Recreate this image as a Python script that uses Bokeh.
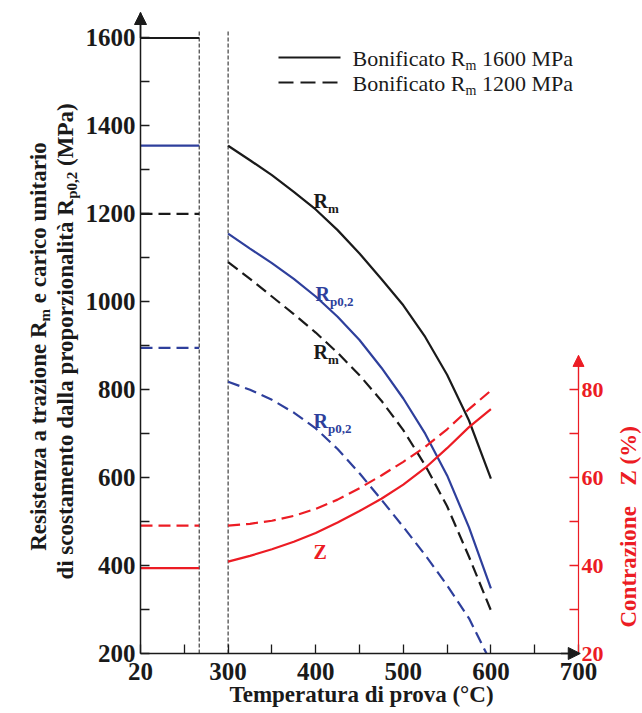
import numpy as np
from bokeh.plotting import figure
from bokeh.models import Range1d, LinearAxis, FixedTicker, Label, Arrow, NormalHead
from bokeh.embed import file_html
from bokeh.resources import INLINE

# ---------------- data ----------------
# x axis is broken: position 200 stands for the room-temperature value (20 °C)
x_tick_pos = [200, 300, 400, 500, 600, 700]
x_tick_labels = ["20", "300", "400", "500", "600", "700"]
x_minor = [250, 350, 450, 550, 650]
y_ticks = [200, 400, 600, 800, 1000, 1200, 1400, 1600]
y_minor = [300, 500, 700, 900, 1100, 1300, 1500]
z_ticks = [20, 40, 60, 80]
z_minor = [30, 50, 70]

# room temperature (20 °C) values
rt_rm_1600 = 1600
rt_rp_1600 = 1355
rt_rm_1200 = 1200
rt_rp_1200 = 895
rt_z_1600 = 39.4
rt_z_1200 = 49.1

temp = [300, 325, 350, 375, 400, 425, 450, 475, 500, 525, 550, 575, 600]
rm_1600 = [1355, 1322, 1288, 1250, 1210, 1163, 1110, 1052, 992, 920, 834, 730, 598]
rp_1600 = [1155, 1121, 1088, 1052, 1012, 966, 913, 850, 780, 700, 605, 487, 348]
rm_1200 = [1090, 1052, 1012, 972, 930, 884, 833, 775, 708, 628, 535, 420, 298]
temp_rp_1200 = [300, 325, 350, 375, 400, 425, 450, 475, 500, 525, 550, 575, 595]
rp_1200 = [818, 800, 777, 748, 712, 665, 610, 550, 488, 424, 355, 280, 200]
z_1600 = [40.9, 42.2, 43.7, 45.4, 47.4, 49.8, 52.4, 55.2, 58.4, 62.2, 66.7, 71.5, 75.6]
z_1200 = [49.1, 49.5, 50.2, 51.3, 52.9, 55.0, 57.6, 60.5, 63.6, 67.0, 71.0, 75.6, 79.8]

legend_labels = ["Bonificato R", "m", " 1600 MPa", " 1200 MPa"]

# ---------------- styling ----------------
FONT = "Liberation Serif"
BLACK = "#1a1a1a"
BLUE = "#2e3f9c"
RED = "#ec1c24"
DASH = "12 6"
BREAK_L, BREAK_R = 267, 300
Y_END = 1658.0
KY = 641 / (Y_END - 200)   # px per MPa
KX = 0.876                 # px per x unit

# pixel -> data helpers (axes corner at px (140, 653))
def X(px):
    return 200 + (px - 140) / KX

def Y(py):
    return 200 + (653 - py) / KY

# Times metrics for composing subscripts
_low = "abcdefghijklmnopqrstuvwxyz"
TR = dict(zip(_low, [444,500,444,500,444,333,500,500,278,278,500,278,778,500,500,500,500,333,389,278,500,500,722,500,500,444]))
TB = dict(zip(_low, [500,556,444,556,444,333,500,556,278,333,556,278,833,556,500,556,556,444,389,333,556,500,722,500,500,444]))
TR.update({"B": 667, "C": 667, "M": 889, "P": 556, "R": 667, "Z": 611, "T": 611})
TB.update({"B": 667, "C": 722, "M": 944, "P": 611, "R": 722, "Z": 667, "T": 667})
for d in (TR, TB):
    d.update({c: 500 for c in "0123456789"})
    d.update({" ": 250, "(": 333, ")": 333, ",": 250, ".": 250, "\u00b0": 400})
TR.update({"%": 833, "\u00e0": 444})
TB.update({"%": 1000, "\u00e0": 500})

def tw(s, size, bold):
    t = TB if bold else TR
    return sum(t.get(c, 500) for c in s) * size / 1000.0

# the frame covers the whole canvas; axes are placed with fixed_location
p = figure(width=642, height=713, x_range=Range1d(X(0), X(642)), y_range=Range1d(Y(713), Y(0)),
           output_backend="svg", toolbar_location=None,
           min_border=0, min_border_left=0, min_border_right=0, min_border_top=0, min_border_bottom=0)
p.title.visible = False
p.extra_y_ranges = {"z": Range1d(Y(713) / 10, Y(0) / 10)}
p.outline_line_color = None
p.xgrid.visible = False
p.ygrid.visible = False
p.background_fill_color = "white"
p.border_fill_color = "white"

def style_axis(ax, color, size, standoff, lw):
    ax.axis_line_color = color
    ax.axis_line_width = lw
    ax.major_tick_line_color = color
    ax.minor_tick_line_color = color
    ax.major_tick_line_width = 1.3
    ax.minor_tick_line_width = 1.3
    ax.major_tick_in = 9
    ax.major_tick_out = 0
    ax.minor_tick_in = 9
    ax.minor_tick_out = 0
    ax.major_label_text_font = FONT
    ax.major_label_text_font_size = size
    ax.major_label_text_font_style = "bold"
    ax.major_label_text_color = color
    ax.major_label_standoff = standoff

xa = p.xaxis[0]
xa.ticker = FixedTicker(ticks=x_tick_pos, minor_ticks=x_minor)
xa.major_label_overrides = {pos: lab for pos, lab in zip(x_tick_pos, x_tick_labels)}
xa.fixed_location = 200
xa.bounds = (200, 700)
style_axis(xa, BLACK, "25px", 9, 1.5)

ya = p.yaxis[0]
ya.ticker = FixedTicker(ticks=y_ticks, minor_ticks=y_minor)
ya.fixed_location = 200
ya.bounds = (200, Y_END)
style_axis(ya, BLACK, "25px", 5, 1.5)

za = LinearAxis(y_range_name="z", ticker=FixedTicker(ticks=z_ticks, minor_ticks=z_minor),
                bounds=(20, 87.8), fixed_location=700)
style_axis(za, RED, "22px", 3, 1.2)
p.add_layout(za, "right")

# break lines
p.segment(x0=[BREAK_L, BREAK_R], y0=[200, 200], x1=[BREAK_L, BREAK_R], y1=[Y(31), Y(31)],
          line_color=BLACK, line_width=1, line_dash="4 2")

# room temperature levels
p.segment(x0=[200, 200], x1=[BREAK_L, BREAK_L], y0=[rt_rm_1600, rt_rp_1600], y1=[rt_rm_1600, rt_rp_1600],
          line_color=[BLACK, BLUE], line_width=2.2)
p.segment(x0=[200, 200], x1=[BREAK_L, BREAK_L], y0=[rt_rm_1200, rt_rp_1200], y1=[rt_rm_1200, rt_rp_1200],
          line_color=[BLACK, BLUE], line_width=2.2, line_dash=DASH)
p.segment(x0=[200], x1=[BREAK_L], y0=[rt_z_1600], y1=[rt_z_1600], line_color=RED, line_width=2.2, y_range_name="z")
p.segment(x0=[200], x1=[BREAK_L], y0=[rt_z_1200], y1=[rt_z_1200], line_color=RED, line_width=2.2,
          line_dash=DASH, y_range_name="z")

# curves
p.line(temp, rm_1600, line_color=BLACK, line_width=2.2)
p.line(temp, rp_1600, line_color=BLUE, line_width=2.2)
p.line(temp, rm_1200, line_color=BLACK, line_width=2.2, line_dash=DASH)
p.line(temp_rp_1200, rp_1200, line_color=BLUE, line_width=2.2, line_dash=DASH)
p.line(temp, z_1600, line_color=RED, line_width=2.2, y_range_name="z")
p.line(temp, z_1200, line_color=RED, line_width=2.2, line_dash=DASH, y_range_name="z")

# arrows on axes
p.add_layout(Arrow(end=NormalHead(size=12, fill_color=BLACK, line_color=BLACK), x_start=200, y_start=1600,
                   x_end=200, y_end=Y_END, line_color=BLACK, line_width=1.5))
p.add_layout(Arrow(end=NormalHead(size=12, fill_color=BLACK, line_color=BLACK), x_start=680, y_start=200,
                   x_end=702, y_end=200, line_color=BLACK, line_width=1.5))
p.add_layout(Arrow(end=NormalHead(size=11, fill_color=RED, line_color=RED), x_start=700, y_start=80,
                   x_end=700, y_end=87.8, y_range_name="z", line_color=RED, line_width=1.2))

def label(px, py, text, size, color, bold=True, angle=0.0, align="left"):
    # (px, py) is the baseline point; anchor the label at the middle of the capitals
    off = 0.34 * size
    if angle == 0.0:
        cx, cy = px, py - off
    else:
        cx, cy = px - off, py
    p.add_layout(Label(x=X(cx), y=Y(cy), text=text, text_font=FONT, text_font_size=f"{size}px",
                       text_font_style="bold" if bold else "normal", text_color=color,
                       angle=angle, text_align=align, text_baseline="middle"))

def hpieces(px, py, pieces, color, bold):
    x = px
    for t, size, dy in pieces:
        if t.startswith(" "):
            x += tw(" ", size, bold)
            t = t[1:]
        label(x, py + dy, t, size, color, bold)
        x += tw(t, size, bold)

def vpieces(bx, cy, pieces, color, bold):
    total = sum(tw(t, s, bold) for t, s, _ in pieces)
    y = cy + total / 2
    for t, size, dx in pieces:
        if t.startswith(" "):
            y -= tw(" ", size, bold)
            t = t[1:]
        label(bx + dx, y, t, size, color, bold, angle=np.pi / 2)
        y -= tw(t, size, bold)

# legend
p.segment(x0=[X(278)], x1=[X(340)], y0=[Y(57)], y1=[Y(57)], line_color=BLACK, line_width=2.2)
p.segment(x0=[X(278)], x1=[X(340)], y0=[Y(82)], y1=[Y(82)], line_color=BLACK, line_width=2.2, line_dash="15 7")
LS, SS = 22, 14
hpieces(352, 65, [(legend_labels[0], LS, 0), (legend_labels[1], SS, 5), (legend_labels[2], LS, 0)], BLACK, False)
hpieces(352, 90, [(legend_labels[0], LS, 0), (legend_labels[1], SS, 5), (legend_labels[3], LS, 0)], BLACK, False)

# curve labels
CS, CSS = 20, 13
hpieces(313, 207, [("R", CS, 0), ("m", CSS, 5)], BLACK, True)
hpieces(315, 300, [("R", CS, 0), ("p0,2", CSS, 5)], BLUE, True)
hpieces(313, 358, [("R", CS, 0), ("m", CSS, 5)], BLACK, True)
hpieces(313, 427, [("R", CS, 0), ("p0,2", CSS, 5)], BLUE, True)
label(313, 558, "Z", CS, RED, True)

# axis titles
TS, TSS = 23, 15
vpieces(46, 346, [("Resistenza a trazione R", TS, 0), ("m", TSS, 4), (" e carico unitario", TS, 0)], BLACK, True)
vpieces(73, 341, [("di scostamento dalla proporzionalit\u00e0 R", TS, 0), ("p0,2", TSS, 4), (" (MPa)", TS, 0)], BLACK, True)
label(361, 702, "Temperatura di prova (\u00b0C)", TS, BLACK, True, align="center")
label(636, 627, "Contrazione", TS, RED, True, angle=np.pi / 2)
label(636, 485, "Z (%)", TS, RED, True, angle=np.pi / 2)

open("out.html", "w").write(file_html(p, INLINE))
